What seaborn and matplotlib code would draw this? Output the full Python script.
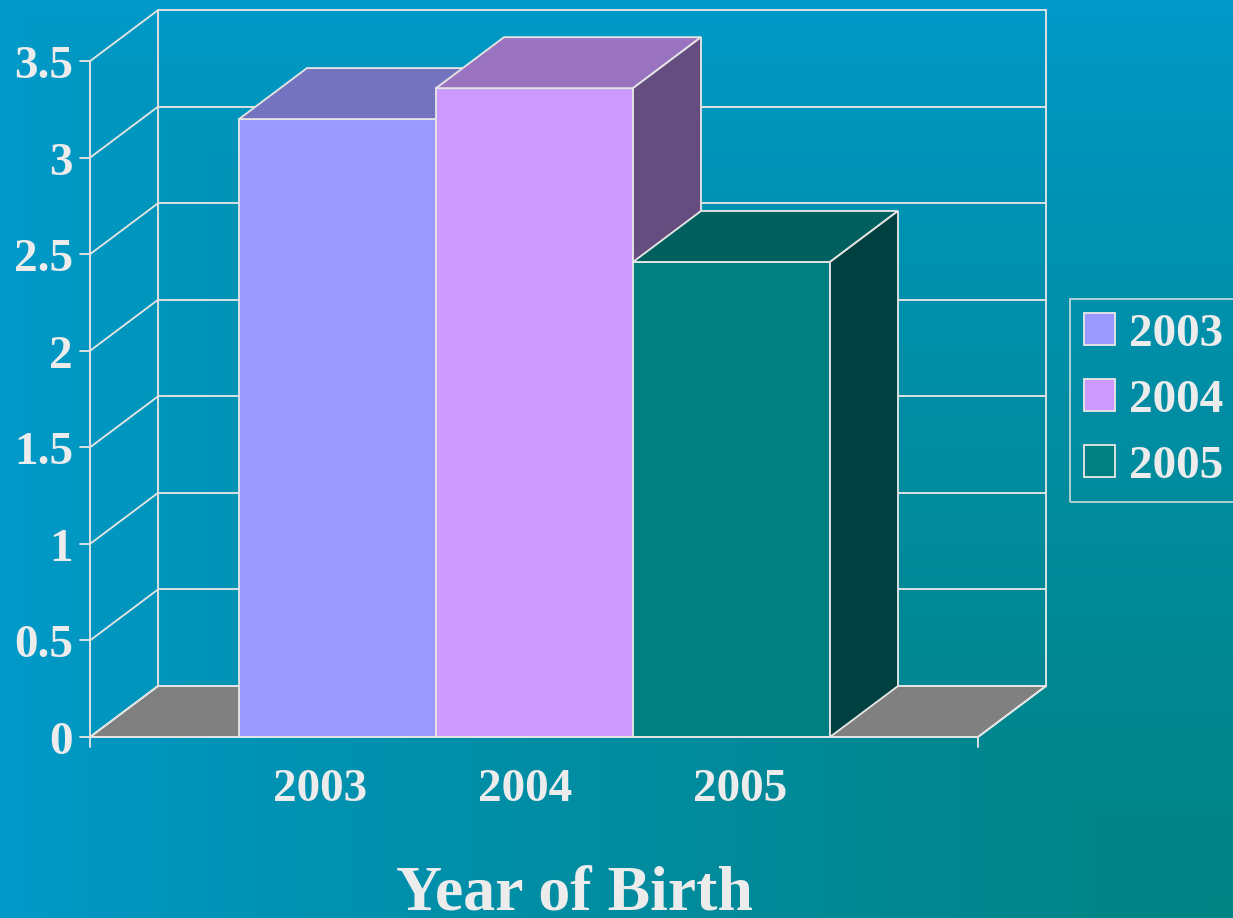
import numpy as np
import matplotlib
matplotlib.use('Agg')
import matplotlib.pyplot as plt
from matplotlib.patches import Polygon, Patch
from matplotlib.colors import to_rgb
import seaborn as sns

# Data
years = ['2003', '2004', '2005']
values = [3.2, 3.36, 2.46]
front_colors = ['#9999ff', '#cc99ff', '#008080']
top_colors = ['#7373bf', '#9973bf', '#006060']
side_colors = ['#4d4d80', '#664d80', '#004040']
y_ticks = [0, 0.5, 1, 1.5, 2, 2.5, 3, 3.5]
y_tick_labels = ['0', '0.5', '1', '1.5', '2', '2.5', '3', '3.5']
x_title = 'Year of Birth'

# Layout (pixels of the 1233x918 picture)
W, H = 1233, 918
PX_X = 197.0          # pixels per category
PX_Y = 193.1          # pixels per value unit
X0, Y0 = 337.5, 737   # pixel of first category centre / value 0
xlabel_px = [320, 525, 740]

LINE = '#e4e4e4'
TEXT = '#ececec'
LW = 1.35


def to_x(p):
    return (p - X0) / PX_X


def to_y(p):
    return (Y0 - p) / PX_Y


DX = 68 / PX_X
DY = 51 / PX_Y
XL, XR = to_x(90), to_x(978)
YMAX = y_ticks[-1]

sns.set_style('white')
plt.rcParams['font.family'] = ['Liberation Serif', 'DejaVu Serif']
plt.rcParams['font.weight'] = 'bold'

fig = plt.figure(figsize=(W / 100, H / 100), dpi=100)
ax = fig.add_axes([0, 0, 1, 1])

xlim = (to_x(0), to_x(W))
ylim = (to_y(H), to_y(0))

# Background gradient towards the bottom-right corner
gx, gy = np.meshgrid(np.linspace(0, 1, 300), np.linspace(0, 1, 240))
t = np.minimum(gx, gy) ** 0.75
c0, c1 = np.array(to_rgb('#009acb')), np.array(to_rgb('#008383'))
grad = c0 + (c1 - c0) * t[..., None]
ax.imshow(grad, extent=[xlim[0], xlim[1], ylim[0], ylim[1]], origin='upper',
          aspect='auto', interpolation='bilinear', zorder=0)

# Floor
ax.add_patch(Polygon([(XL, 0), (XR, 0), (XR + DX, DY), (XL + DX, DY)],
                     facecolor='#808080', edgecolor=LINE, lw=LW, zorder=1))

# Back wall and left wall grid
for v in y_ticks:
    ax.plot([XL, XL + DX], [v, v + DY], color=LINE, lw=LW, zorder=1)
    ax.plot([XL + DX, XR + DX], [v + DY, v + DY], color=LINE, lw=LW, zorder=1)
    ax.plot([XL - 10 / PX_X, XL], [v, v], color=LINE, lw=LW, zorder=10)
for xb in [XL + DX, XR + DX]:
    ax.plot([xb, xb], [DY, YMAX + DY], color=LINE, lw=LW, zorder=1)
ax.plot([XR, XR + DX], [0, DY], color=LINE, lw=LW, zorder=1)

# Front faces of the bars
sns.barplot(x=years, y=values, hue=years, palette=front_colors, saturation=1,
            width=1.0, edgecolor=LINE, linewidth=LW, legend=False, ax=ax)
for i, bar in enumerate(ax.patches[1:] if len(ax.patches) > 3 else ax.patches):
    bar.set_zorder(3 + i)

# Top and side faces
for i, v in enumerate(values):
    x0, x1 = i - 0.5, i + 0.5
    ax.add_patch(Polygon([(x0, v), (x1, v), (x1 + DX, v + DY), (x0 + DX, v + DY)],
                         facecolor=top_colors[i], edgecolor=LINE, lw=LW, zorder=3 + i))
    ax.add_patch(Polygon([(x1, 0), (x1 + DX, DY), (x1 + DX, v + DY), (x1, v)],
                         facecolor=side_colors[i], edgecolor=LINE, lw=LW, zorder=3 + i))

# Front axes
ax.plot([XL, XL], [to_y(747), YMAX], color=LINE, lw=LW, zorder=10)
ax.plot([XL, XR], [0, 0], color=LINE, lw=LW, zorder=10)
ax.plot([XR, XR], [0, to_y(747)], color=LINE, lw=LW, zorder=10)

# Tick labels
for v, lab in zip(y_ticks, y_tick_labels):
    ax.text(XL - 17 / PX_X, v - 6 / PX_Y, lab, ha='right', va='center', fontsize=34,
            fontweight='bold', color=TEXT, zorder=11)
for p, lab in zip(xlabel_px, years):
    ax.text(to_x(p), to_y(790), lab, ha='center', va='center', fontsize=34,
            fontweight='bold', color=TEXT, zorder=11)
ax.text(to_x(575), to_y(910), x_title, ha='center', va='baseline', fontsize=46,
        fontweight='bold', color=TEXT, zorder=11)

# Legend
handles = [Patch(facecolor=c, edgecolor=LINE, linewidth=LW) for c in front_colors]
leg = ax.legend(handles, years, loc='upper left',
                bbox_to_anchor=(1070 / W, 1 - 299 / H), bbox_transform=fig.transFigure,
                frameon=True, fancybox=False, edgecolor=LINE, facecolor='none',
                prop={'family': 'Liberation Serif', 'weight': 'bold', 'size': 34},
                labelcolor=TEXT, handlelength=0.66, handleheight=0.66,
                handletextpad=0.28, labelspacing=0.5, borderpad=0.3, borderaxespad=0)
leg.get_frame().set_linewidth(LW)

ax.set_xlim(*xlim)
ax.set_ylim(*ylim)
ax.axis('off')

fig.savefig('out.png', dpi=100)
